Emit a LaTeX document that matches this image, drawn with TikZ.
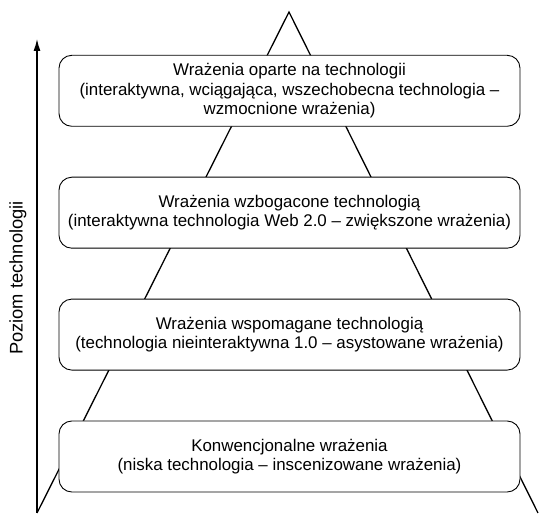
\documentclass[tikz,border=0pt]{standalone}
\usepackage{fontspec}
\setmainfont{Liberation Sans}
\usepackage{tikz}
\usetikzlibrary{arrows.meta, positioning}

\begin{document}
\begin{tikzpicture}[
      x=1pt, y=1pt,
      font=\fontsize{16.9}{19.2}\selectfont,
      level/.style={draw, line width=0.9pt, rounded corners=4.5mm, align=center, fill=white,
                    minimum width=461pt, minimum height=71pt, inner sep=0pt},
      edge/.style={line width=1.3pt},
      axis/.style={-{Latex[length=12pt, width=7pt]}, line width=1.3pt}
    ]
      \useasboundingbox (0,0) rectangle (539,514);
      % pyramid
      \coordinate (apex) at (289,502);
      \coordinate (basel) at (37,1);
      \coordinate (baser) at (538,1);
      \coordinate (axtop) at (37,475);
      \draw[edge] (basel) -- (apex) -- (baser);
      \draw[axis] (basel) -- (axtop);
      \node[rotate=90, font=\fontsize{18.3}{20}\selectfont] (axlabel) at (18,236) {Poziom technologii};
      % levels
      \node[level] (conv) at (289.5,57.5) {Konwencjonalne wrażenia\\(niska technologia -- inscenizowane wrażenia)};
      \node[level, above=50pt of conv] (assist) {Wrażenia wspomagane technologią\\(technologia nieinteraktywna 1.0 -- asystowane wrażenia)};
      \node[level, above=50pt of assist] (enrich) {Wrażenia wzbogacone technologią\\(interaktywna technologia Web 2.0 -- zwiększone wrażenia)};
      \node[level, above=50pt of enrich] (based) {Wrażenia oparte na technologii\\(interaktywna, wciągająca, wszechobecna technologia --\\wzmocnione wrażenia)};
    \end{tikzpicture}
\end{document}
